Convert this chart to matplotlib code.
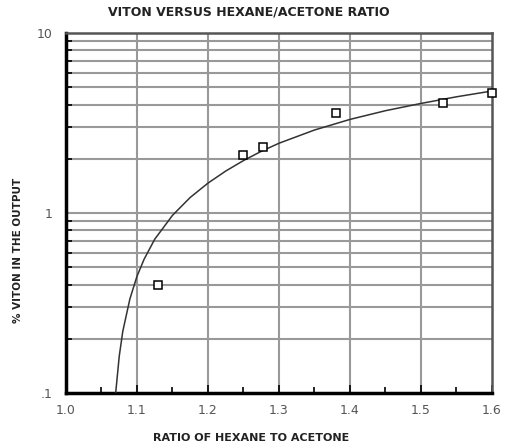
import matplotlib.pyplot as plt

# measured points (open squares)
ratio = [1.13, 1.25, 1.278, 1.381, 1.531, 1.60]
viton = [0.40, 2.10, 2.33, 3.58, 4.07, 4.66]

# fitted curve
curve_x = [1.070, 1.075, 1.080, 1.090, 1.100, 1.110, 1.125, 1.150, 1.175,
           1.200, 1.225, 1.250, 1.275, 1.300, 1.350, 1.400, 1.450, 1.500,
           1.550, 1.600]
curve_y = [0.10, 0.16, 0.22, 0.333, 0.445, 0.553, 0.715, 0.97, 1.22,
           1.465, 1.71, 1.955, 2.20, 2.44, 2.89, 3.31, 3.70, 4.06,
           4.42, 4.76]

xticks = [1.0, 1.1, 1.2, 1.3, 1.4, 1.5, 1.6]
xlabels = ['1.0', '1.1', '1.2', '1.3', '1.4', '1.5', '1.6']
yticks = [0.1, 1, 10]
ylabels = ['.1', '1', '10']

fig = plt.figure(figsize=(5.06, 4.48), dpi=100)
ax = fig.add_axes([0.1304, 0.1228, 0.8419, 0.8036])

ax.set_yscale('log')
ax.set_xlim(1.0, 1.6)
ax.set_ylim(0.1, 10)

# grid
minor_y = [v * d for d in (0.1, 1) for v in range(2, 10)]
for v in minor_y + [1]:
    ax.axhline(v, color='#999999', lw=1.5, zorder=1)
for v in xticks[1:-1]:
    ax.axvline(v, color='#999999', lw=1.5, zorder=1)

ax.plot(curve_x, curve_y, color='#333333', lw=1.1, zorder=3)
ax.plot(ratio, viton, 's', ms=6, mfc='white', mec='black', mew=1.1,
        zorder=4, clip_on=False)

ax.set_xticks(xticks)
ax.set_xticklabels(xlabels)
ax.set_xticks([1.05, 1.15, 1.25, 1.35, 1.45, 1.55], minor=True)
ax.set_yticks(yticks)
ax.set_yticklabels(ylabels)
ax.set_yticks(minor_y, minor=True)
ax.yaxis.set_minor_formatter(plt.NullFormatter())

ax.tick_params(axis='both', which='major', direction='in', length=6,
               width=1.2, labelsize=9, labelcolor='#555555', pad=8)
ax.tick_params(axis='both', which='minor', direction='in', length=4,
               width=1.2)
ax.tick_params(axis='y', which='major', length=0, pad=10)

for s in ['bottom', 'left']:
    ax.spines[s].set_linewidth(2.5)
    ax.spines[s].set_color('black')
for s in ['top', 'right']:
    ax.spines[s].set_linewidth(1.8)
    ax.spines[s].set_color('#555555')

fig.text(0.492, 0.973, 'VITON VERSUS HEXANE/ACETONE RATIO', ha='center',
         va='center', fontsize=9, fontweight='bold', color='#222222')
fig.text(0.497, 0.022, 'RATIO OF HEXANE TO ACETONE', ha='center',
         va='center', fontsize=8, fontweight='bold', color='#222222')
fig.text(0.036, 0.442, '% VITON IN THE OUTPUT', ha='center', va='center',
         rotation=90, fontsize=7.5, fontweight='bold', color='#222222')

fig.savefig('out.png', dpi=100)
